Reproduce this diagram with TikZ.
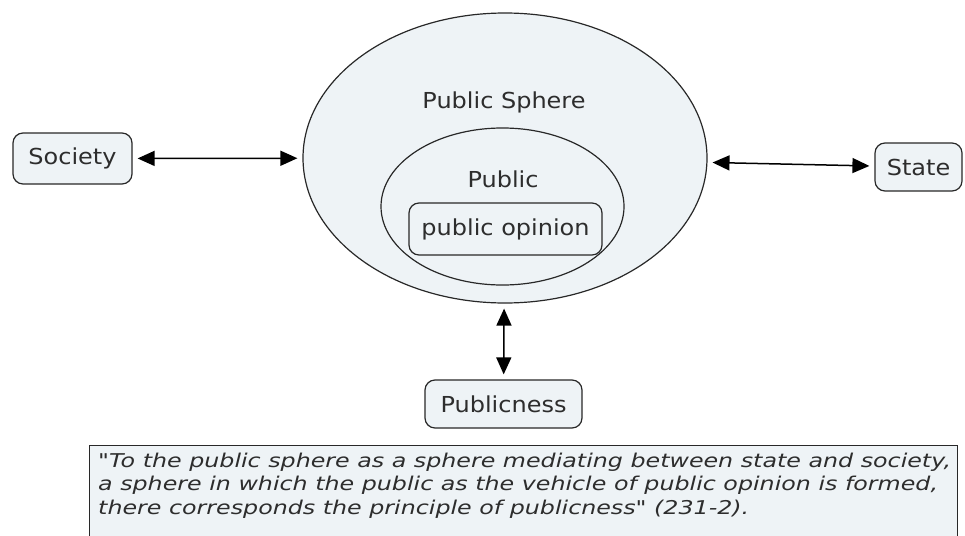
\documentclass[tikz,border=0pt]{standalone}
\usepackage{fontspec}
\setmainfont{DejaVu Sans}
\newfontfamily\mfont{DejaVu Sans}[FakeStretch=1.09]
\newfontfamily\qfont{DejaVu Sans}[FakeStretch=1.25]
\usetikzlibrary{shapes.geometric,arrows.meta}
\definecolor{fillc}{RGB}{238,243,246}
\definecolor{linec}{RGB}{40,40,40}
\definecolor{textc}{RGB}{45,45,45}
\begin{document}
\begin{tikzpicture}[x=1pt,y=-1pt,
  box/.style={draw=linec,fill=fillc,rounded corners=10pt,line width=1.2pt,text=textc,font=\mfont\fontsize{22}{26}\selectfont,inner sep=0pt},
  oval/.style={draw=linec,fill=fillc,ellipse,line width=1.2pt,inner sep=0pt},
  lbl/.style={text=textc,font=\mfont\fontsize{22}{26}\selectfont,inner sep=0pt},
  link/.style={{Triangle[length=17pt,width=15pt]}-{Triangle[length=17pt,width=15pt]},line width=1.5pt,draw=black,shorten >=5pt,shorten <=5pt}]
\useasboundingbox (0,0) rectangle (965,535);
\node[oval,minimum width=404pt,minimum height=290pt] (outer) at (505,158) {};
\node[oval,minimum width=243pt,minimum height=157pt] (inner) at (502.5,206.5) {};
\node[lbl] (sphere) at (504,102) {Public Sphere};
\node[lbl] (public) at (503,179) {Public};
\node[box,minimum width=193pt,minimum height=52pt] (opinion) at (505.5,229) {public opinion};
\node[box,minimum width=119pt,minimum height=51pt] (society) at (72.5,158.5) {Society};
\node[box,minimum width=87pt,minimum height=48pt] (state) at (918.5,167) {State};
\node[box,minimum width=157pt,minimum height=48pt] (publicness) at (503.5,404) {Publicness};
\draw[link] (society) -- (outer);
\draw[link] (outer) -- (state);
\draw[link] (outer) -- (publicness);
\node[draw=linec,fill=fillc,line width=1.2pt,anchor=north west,minimum width=868pt,minimum height=110pt,inner sep=0pt] (quotebox) at (89,445) {};
\node[anchor=north west,align=left,inner sep=0pt,text=textc,font=\qfont\fontsize{19}{23.5}\selectfont\itshape] (quote) at (98,452.5)
{"To the public sphere as a sphere mediating between state and society,\\
a sphere in which the public as the vehicle of public opinion is formed,\\
there corresponds the principle of publicness" (231-2).};
\end{tikzpicture}
\end{document}
